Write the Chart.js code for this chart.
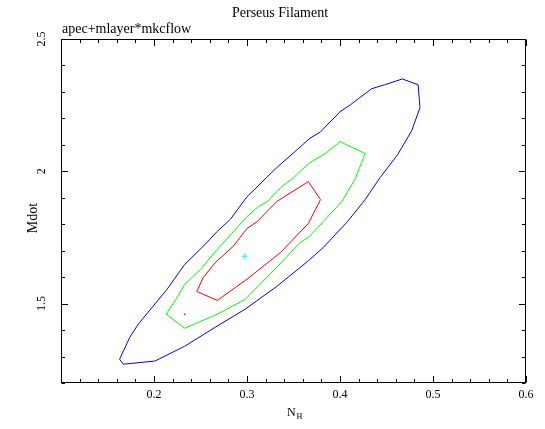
<!DOCTYPE html>
<html><head><meta charset="utf-8">
<script src="https://cdn.jsdelivr.net/npm/chart.js@4.4.1/dist/chart.umd.min.js"></script>
<style>html,body{margin:0;padding:0;background:#fff;}</style>
</head><body>
<canvas id="c" width="545" height="429" style="width:545px;height:429px;display:block"></canvas>
<script>
const chartTitle = 'Perseus Filament';
const modelName = 'apec+mlayer*mkcflow';
const xAxisLabel = 'N';
const xAxisSub = 'H';
const yAxisLabel = 'Mdot';
const xTickValues = [0.2, 0.3, 0.4, 0.5, 0.6];
const yTickValues = [1.5, 2, 2.5];

const blueNH = [0.163,0.167,0.201,0.233,0.266,0.298,0.332,0.365,0.382,0.408,0.427,0.443,0.462,0.477,0.486,0.484,0.467,0.448,0.434,0.411,0.400,0.379,0.367,0.354,0.332,0.300,0.282,0.268,0.255,0.233,0.214,0.199,0.183,0.174,0.163];
const blueMdot = [1.290,1.271,1.283,1.339,1.411,1.479,1.565,1.659,1.712,1.810,1.893,1.976,2.063,2.153,2.240,2.327,2.349,2.327,2.312,2.251,2.225,2.149,2.123,2.082,2.014,1.904,1.818,1.773,1.724,1.648,1.554,1.490,1.422,1.373,1.290];
const greenNH = [0.213,0.233,0.268,0.298,0.332,0.357,0.366,0.383,0.402,0.416,0.427,0.400,0.384,0.366,0.350,0.336,0.322,0.311,0.300,0.266,0.250,0.233,0.225,0.213];
const greenMdot = [1.460,1.407,1.460,1.516,1.637,1.731,1.750,1.814,1.886,1.969,2.067,2.112,2.067,2.029,1.976,1.938,1.886,1.863,1.829,1.697,1.629,1.573,1.524,1.460];
const redNH = [0.246,0.268,0.301,0.336,0.366,0.379,0.366,0.332,0.311,0.300,0.285,0.266,0.253,0.246];
const redMdot = [1.546,1.512,1.595,1.693,1.803,1.893,1.961,1.886,1.810,1.784,1.716,1.656,1.599,1.546];
const bestNH = [0.297];
const bestMdot = [1.679];
const markNH = [0.233];
const markMdot = [1.460];

const toPts = (xs, ys) => xs.map((v, i) => ({x: v, y: ys[i]}));
const FONT = "'Liberation Serif', 'DejaVu Serif', serif";

const framePlugin = {
  id: 'frame',
  afterDatasetsDraw(chart) {
    const {ctx, chartArea: a, scales: {x, y}} = chart;
    ctx.save();
    ctx.strokeStyle = '#000';
    ctx.lineWidth = 1;
    const L = Math.round(a.left) + 0.5, R = Math.round(a.right) - 0.5;
    const T = Math.round(a.top) + 0.5, B = Math.round(a.bottom) - 0.5;
    ctx.strokeRect(L, T, R - L, B - T);
    ctx.beginPath();
    for (let i = 0; i <= 25; i++) {
      const v = 0.1 + i * 0.02;
      const len = (i % 5 === 0) ? 6.5 : 3.5;
      const px = Math.round(x.getPixelForValue(v)) + 0.5;
      ctx.moveTo(px, B); ctx.lineTo(px, B - len);
      ctx.moveTo(px, T); ctx.lineTo(px, T + len);
    }
    for (let i = 0; i <= 13; i++) {
      const v = 1.2 + i * 0.1;
      const major = Math.abs(v * 2 - Math.round(v * 2)) < 1e-6;
      const len = major ? 6.5 : 3.5;
      const py = Math.round(y.getPixelForValue(v)) + 0.5;
      ctx.moveTo(L, py); ctx.lineTo(L + len, py);
      ctx.moveTo(R, py); ctx.lineTo(R - len, py);
    }
    ctx.stroke();
    ctx.restore();
  },
  afterDraw(chart) {
    const {ctx, chartArea: a} = chart;
    ctx.save();
    ctx.fillStyle = '#000';
    ctx.textBaseline = 'alphabetic';
    ctx.font = '14px ' + FONT;
    ctx.textAlign = 'center';
    ctx.fillText(chartTitle, 280, 16.5);
    ctx.textAlign = 'left';
    ctx.fillText(modelName, a.left + 1, 33);
    ctx.font = '12px ' + FONT;
    ctx.fillText(xAxisLabel, 287, 415.5);
    ctx.font = '8px ' + FONT;
    ctx.fillText(xAxisSub, 296.5, 418.5);
    ctx.font = '14px ' + FONT;
    ctx.translate(36.5, 218);
    ctx.rotate(-Math.PI / 2);
    ctx.textAlign = 'center';
    ctx.fillText(yAxisLabel, 0, 0);
    ctx.restore();
  }
};

new Chart(document.getElementById('c'), {
  type: 'scatter',
  data: {
    datasets: [
      {data: toPts(blueNH, blueMdot), showLine: true, borderColor: '#0000ff', borderWidth: 1, pointRadius: 0, tension: 0, fill: false},
      {data: toPts(greenNH, greenMdot), showLine: true, borderColor: '#00ff00', borderWidth: 1, pointRadius: 0, tension: 0, fill: false},
      {data: toPts(redNH, redMdot), showLine: true, borderColor: '#ff0000', borderWidth: 1, pointRadius: 0, tension: 0, fill: false},
      {data: toPts(markNH, markMdot), showLine: false, pointStyle: 'rect', pointRadius: 1, borderWidth: 0, backgroundColor: '#ff0000', borderColor: '#ff0000'},
      {data: toPts(bestNH, bestMdot), showLine: false, pointStyle: 'cross', pointRadius: 3, borderWidth: 1, borderColor: '#00ffff', backgroundColor: '#00ffff'}
    ]
  },
  options: {
    responsive: false,
    animation: false,
    devicePixelRatio: 1,
    layout: {padding: {top: 39, right: 19, left: 0, bottom: 0}},
    plugins: {legend: {display: false}, tooltip: {enabled: false}, title: {display: false}},
    scales: {
      x: {
        type: 'linear', position: 'bottom', min: 0.1, max: 0.6,
        grid: {display: false, drawTicks: false},
        border: {display: false},
        ticks: {color: '#000', font: {family: FONT, size: 12}, padding: 5, maxRotation: 0, autoSkip: false,
          callback: v => String(v)},
        afterBuildTicks: s => { s.ticks = xTickValues.map(v => ({value: v})); },
        afterFit: s => { s.height = 46; }
      },
      y: {
        type: 'linear', position: 'left', min: 1.2, max: 2.5,
        grid: {display: false, drawTicks: false},
        border: {display: false},
        ticks: {color: '#000', font: {family: FONT, size: 12}, padding: 12, minRotation: 90, maxRotation: 90,
          crossAlign: 'center', autoSkip: false, callback: v => String(v)},
        afterBuildTicks: s => { s.ticks = yTickValues.map(v => ({value: v})); },
        afterFit: s => { s.width = 61; }
      }
    }
  },
  plugins: [framePlugin]
});
</script>
</body></html>
